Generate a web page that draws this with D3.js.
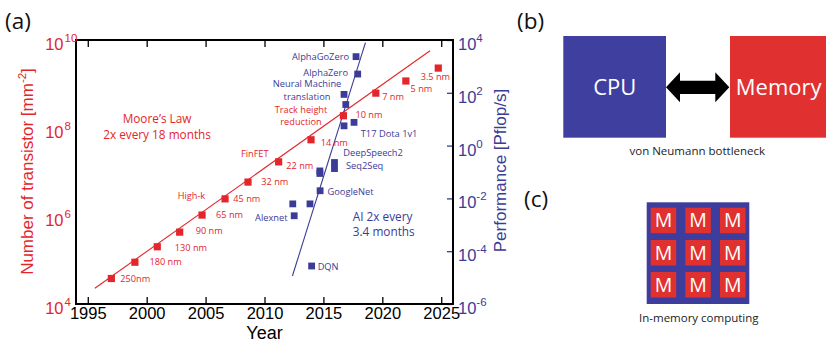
<!DOCTYPE html>
<html>
<head>
<meta charset="utf-8">
<script src="https://cdn.jsdelivr.net/npm/d3@7"></script>
<style>
  body { margin: 0; background: #fff; }
  svg { display: block; }
</style>
</head>
<body>
<svg id="fig" width="826" height="341"></svg>
<script>
const RED = "#e3262c";
const BLUE = "#3b3b98";
const AXIS_FONT = "'Liberation Sans', Arial, sans-serif";
const NOTE_FONT = "'Open Sans', 'Noto Sans', sans-serif";

// ---- (a) Moore's law: transistor density per process node ----
const nodeLabels  = ["250nm", "180 nm", "130 nm", "90 nm", "65 nm", "45 nm", "32 nm",
                     "22 nm", "14 nm", "10 nm", "7 nm", "5 nm", "3.5 nm"];
const nodeYears   = [1997.0, 1999.0, 2000.9, 2002.8, 2004.7, 2006.65, 2008.6,
                     2011.2, 2013.95, 2016.7, 2019.45, 2022.0, 2024.75];
const nodeDensity = [3.8e4, 8.9e4, 2.0e5, 4.3e5, 1.05e6, 2.45e6, 5.9e6,
                     1.7e7, 5.4e7, 1.9e8, 6.2e8, 1.17e9, 2.3e9];

// ---- (a) compute used by landmark AI systems ----
const aiLabels = ["AlphaGoZero", "AlphaZero", "Neural Machine translation", "", "",
                  "T17 Dota 1v1", "DeepSpeech2", "Seq2Seq", "", "", "GoogleNet",
                  "", "", "Alexnet", "DQN"];
const aiYears  = [2017.77, 2017.91, 2016.75, 2016.9, 2016.75,
                  2017.6, 2015.94, 2015.94, 2014.7, 2014.7, 2014.72,
                  2013.86, 2012.4, 2012.52, 2014.0];
const aiPflops = [2340, 513, 87, 36, 5.6,
                  7.6, 0.229, 0.135, 0.11, 0.088, 0.0195,
                  0.0062, 0.0062, 0.0022, 2.75e-5];

// trend lines
const mooreTrendYears   = [1995.6, 2024.05];
const mooreTrendDensity = [2.28e4, 5.7e9];
const aiTrendYears      = [2012.37, 2018.57];
const aiTrendPflops     = [1.15e-5, 7.9e3];

// axis ticks
const yearTicks    = [1995, 2000, 2005, 2010, 2015, 2020, 2025];
const densityTicks = [1e4, 1e6, 1e8, 1e10];
const perfTicks    = [1e-6, 1e-4, 1e-2, 1e0, 1e2, 1e4];

// ---- (b) / (c) diagram text ----
const vonNeumannBoxes = ["CPU", "Memory"];
const vonNeumannCaption = "von Neumann bottleneck";
const imcCell = "M";
const imcCaption = "In-memory computing";

// label placement (pixel offsets from each mark)
const nodeLabelOffsets = [[9, 3.5], [14.5, 3], [17.5, 4], [16, 2], [14, 3.3], [8.3, 3], [13.3, 3],
                          [7.7, 7], [9.7, 6.3], [12, 2.6], [6.3, 6.7], [4.7, 11.3], [-17.6, 12.3]];
const aiLabelLayout = [
  {dx: -7, dy: 3.3, anchor: "end"}, {dx: -9.7, dy: 2, anchor: "end"},
  {dx: -37, dy: -7.2, anchor: "middle"}, null, null,
  {dx: 6.7, dy: 14.7, anchor: "start"}, {dx: 8.8, dy: -7, anchor: "start"},
  {dx: 11.5, dy: 0, anchor: "start"}, null, null, {dx: 7.4, dy: 4.2, anchor: "start"},
  null, null, {dx: -6.6, dy: 5.3, anchor: "end"}, {dx: 6, dy: 4, anchor: "start"}
];

const svg = d3.select("#fig");
svg.append("rect").attr("width", 826).attr("height", 341).attr("fill", "#fff");

const L = 76, R = 453, T = 40, B = 304;
const x  = d3.scaleLinear().domain([1994, 2026]).range([L, R]);
const yL = d3.scaleLog().domain([1e4, 1e10]).range([B, T]);
const yR = d3.scaleLog().domain([1e-6, 1e4]).range([B, T]);

const g = svg.append("g");

// trend lines
const mooreLine = d3.line().x(d => x(d[0])).y(d => yL(d[1]));
g.append("path")
  .attr("d", mooreLine(d3.zip(mooreTrendYears, mooreTrendDensity)))
  .attr("stroke", RED).attr("stroke-width", 1.1).attr("fill", "none");
const aiLine = d3.line().x(d => x(d[0])).y(d => yR(d[1]));
g.append("path")
  .attr("d", aiLine(d3.zip(aiTrendYears, aiTrendPflops)))
  .attr("stroke", BLUE).attr("stroke-width", 1.1).attr("fill", "none");

// markers
const SQ = 7.2;
g.selectAll("rect.node").data(d3.range(nodeYears.length)).join("rect")
  .attr("class", "node")
  .attr("x", i => x(nodeYears[i]) - SQ / 2).attr("y", i => yL(nodeDensity[i]) - SQ / 2)
  .attr("width", SQ).attr("height", SQ).attr("fill", RED);
const SQB = 6.8;
g.selectAll("rect.ai").data(d3.range(aiYears.length)).join("rect")
  .attr("class", "ai")
  .attr("x", i => x(aiYears[i]) - SQB / 2).attr("y", i => yR(aiPflops[i]) - SQB / 2)
  .attr("width", SQB).attr("height", SQB).attr("fill", BLUE);

// node labels
g.selectAll("text.node").data(d3.range(nodeLabels.length)).join("text")
  .attr("class", "node")
  .attr("x", i => x(nodeYears[i]) + nodeLabelOffsets[i][0])
  .attr("y", i => yL(nodeDensity[i]) + nodeLabelOffsets[i][1])
  .attr("font-family", NOTE_FONT).attr("font-size", 9.2).attr("fill", RED)
  .text(i => nodeLabels[i]);

// AI labels
aiLabels.forEach((lab, i) => {
  const lay = aiLabelLayout[i];
  if (!lab || !lay) return;
  const px = x(aiYears[i]) + lay.dx, py = yR(aiPflops[i]) + lay.dy;
  const t = g.append("text")
    .attr("font-family", NOTE_FONT).attr("font-size", 9.3).attr("fill", BLUE)
    .attr("text-anchor", lay.anchor);
  if (lab === "Neural Machine translation") {
    t.append("tspan").attr("x", px).attr("y", py).text("Neural Machine");
    t.append("tspan").attr("x", px).attr("y", py + 13).text("translation");
  } else {
    t.attr("x", px).attr("y", py).text(lab);
  }
});

// free annotations (anchored in data coordinates)
function note(lines, year, yv, scale, color, size, anchor, lh) {
  const t = g.append("text").attr("font-family", NOTE_FONT).attr("font-size", size)
    .attr("fill", color).attr("text-anchor", anchor);
  lines.forEach((s, k) => t.append("tspan").attr("x", x(year)).attr("y", scale(yv) + k * lh).text(s));
}
note(["High-k"], 2002.63, 2.43e6, yL, RED, 9.2, "start", 0);
note(["FinFET"], 2008.0, 2.19e7, yL, RED, 9.2, "start", 0);
note(["Track height", "reduction"], 2013.1, 2.2e8, yL, RED, 9.2, "middle", 12.3);
note(["Moore\u2019s Law", "2x every 18 months"], 2000.88, 1.33e8, yL, RED, 11.8, "middle", 16.5);
note(["AI 2x every", "3.4 months"], 2017.49, 1.39e-3, yR, BLUE, 11.8, "start", 15);

// axes
const axBottom = svg.append("g").attr("transform", `translate(0,${B})`)
  .call(d3.axisBottom(x).tickValues(yearTicks).tickSize(-7).tickPadding(3).tickFormat(d3.format("d")));
axBottom.selectAll("text").attr("font-family", AXIS_FONT).attr("font-size", 16.5).attr("fill", "#000");
const axTop = svg.append("g").attr("transform", `translate(0,${T})`)
  .call(d3.axisTop(x).tickValues(yearTicks).tickSize(-7).tickFormat(""));
const axRight = svg.append("g").attr("transform", `translate(${R},0)`)
  .call(d3.axisRight(yR).tickValues(perfTicks).tickSize(-6).tickFormat(""));
[axBottom, axTop, axRight].forEach(a => {
  a.select(".domain").remove();
  a.selectAll(".tick line").attr("stroke-width", 1.3);
});
axRight.selectAll(".tick line").attr("stroke", BLUE);

// frame
svg.append("rect").attr("x", L).attr("y", T).attr("width", R - L).attr("height", B - T)
  .attr("fill", "none").attr("stroke", "#000").attr("stroke-width", 2);

// power-of-ten labels
const exponent = v => Math.round(Math.log10(v));
const leftLabels = svg.append("g");
densityTicks.forEach(v => {
  const yy = yL(v) + 10;
  leftLabels.append("text").attr("x", 63.5).attr("y", yy).attr("text-anchor", "end")
    .attr("font-family", AXIS_FONT).attr("font-size", 16.5).attr("fill", RED).text("10");
  leftLabels.append("text").attr("x", 64.5).attr("y", yy - 8)
    .attr("font-family", AXIS_FONT).attr("font-size", 11.5).attr("fill", RED).text(exponent(v));
});
perfTicks.forEach(v => {
  const yy = yR(v) + 10;
  const t = svg.append("text").attr("x", 458).attr("y", yy)
    .attr("font-family", AXIS_FONT).attr("font-size", 16.5).attr("fill", BLUE);
  t.append("tspan").text("10");
  t.append("tspan").attr("dy", -8).attr("font-size", 11.5).text(exponent(v));
});

// axis titles
const ylab = svg.append("text").attr("transform", "translate(33,171.5) rotate(-90)")
  .attr("text-anchor", "middle").attr("font-family", AXIS_FONT).attr("font-size", 17).attr("fill", RED);
ylab.append("tspan").text("Number of transistor [mm");
ylab.append("tspan").attr("dy", -7).attr("font-size", 11.5).text("-2");
ylab.append("tspan").attr("dy", 7).text("]");
svg.append("text").attr("transform", "translate(506,170.5) rotate(-90)")
  .attr("text-anchor", "middle").attr("font-family", AXIS_FONT).attr("font-size", 17).attr("fill", BLUE)
  .text("Performance [Pflop/s]");
svg.append("text").attr("x", (L + R) / 2).attr("y", 338.5).attr("text-anchor", "middle")
  .attr("font-family", AXIS_FONT).attr("font-size", 18).attr("fill", "#000").text("Year");

// panel letters
[["(a)", 5, 29], ["(b)", 517, 29], ["(c)", 524, 207]].forEach(([s, px, py]) =>
  svg.append("text").attr("x", px).attr("y", py).attr("font-family", NOTE_FONT)
    .attr("font-size", 22.5).attr("fill", "#111").text(s));

// ---- (b) von Neumann architecture ----
const pb = svg.append("g");
const boxFill = ["#3f3f9f", "#e0302f"];
const boxX = [563.3, 730];
vonNeumannBoxes.forEach((s, i) => {
  pb.append("rect").attr("x", boxX[i]).attr("y", 36).attr("width", 102.7).attr("height", 101.7)
    .attr("fill", boxFill[i]);
  pb.append("text").attr("x", i === 0 ? 614.7 : 778.7).attr("y", 95.3).attr("text-anchor", "middle")
    .attr("font-family", NOTE_FONT).attr("font-size", 22).attr("fill", "#fff").text(s);
});
const ax0 = 666, ax1 = 729.3, ay = 87.3, hh = 15, sh = 6.6, hl = 14;
pb.append("path").attr("fill", "#000").attr("d",
  `M${ax0},${ay} L${ax0 + hl},${ay - hh} L${ax0 + hl},${ay - sh} L${ax1 - hl},${ay - sh} ` +
  `L${ax1 - hl},${ay - hh} L${ax1},${ay} L${ax1 - hl},${ay + hh} L${ax1 - hl},${ay + sh} ` +
  `L${ax0 + hl},${ay + sh} L${ax0 + hl},${ay + hh} Z`);
pb.append("text").attr("x", 697.3).attr("y", 154.5).attr("text-anchor", "middle")
  .attr("font-family", NOTE_FONT).attr("font-size", 11.5).attr("fill", "#222").text(vonNeumannCaption);

// ---- (c) in-memory computing array ----
const pc = svg.append("g");
pc.append("rect").attr("x", 646.7).attr("y", 202.3).attr("width", 102.6).attr("height", 101.7)
  .attr("fill", "#3d3d9e");
const cellX = [650.7, 685.3, 720], cellY = [207.7, 240, 272], cs = 25.5;
cellY.forEach(cy => cellX.forEach(cx => {
  pc.append("rect").attr("x", cx).attr("y", cy).attr("width", cs).attr("height", cs).attr("fill", "#e0302f");
  pc.append("text").attr("x", cx + cs / 2).attr("y", cy + cs / 2 + 7).attr("text-anchor", "middle")
    .attr("font-family", NOTE_FONT).attr("font-size", 19.5).attr("fill", "#fff").text(imcCell);
}));
pc.append("text").attr("x", 698.8).attr("y", 322).attr("text-anchor", "middle")
  .attr("font-family", NOTE_FONT).attr("font-size", 11.5).attr("fill", "#222").text(imcCaption);
</script>
</body>
</html>
